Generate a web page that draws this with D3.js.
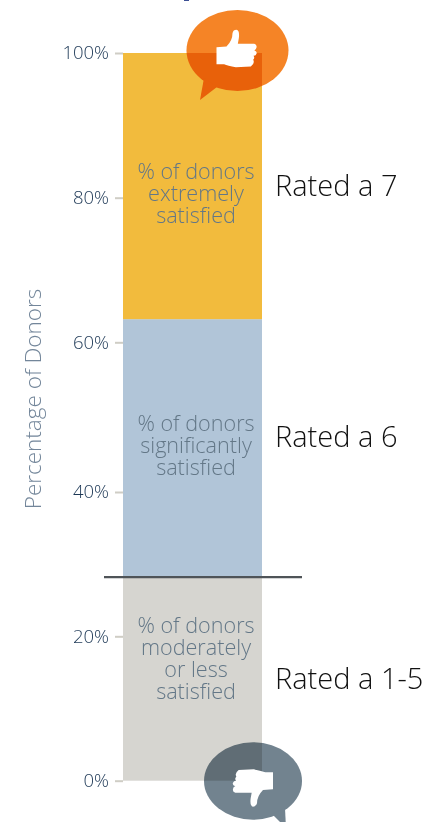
<!DOCTYPE html>
<html>
<head>
<meta charset="utf-8">
<script src="https://cdn.jsdelivr.net/npm/d3@7"></script>
<style>
  html, body { margin: 0; padding: 0; background: #fff; }
  svg { display: block; }
  text { font-family: "Open Sans", sans-serif; font-weight: 300; }
  .tick line { stroke: #cfcdc5; stroke-width: 2; }
  .tick text { fill: #1c3755; font-size: 18.5px; }
</style>
</head>
<body>
<div id="chart"></div>
<script>
/**
 * DATA
 * */
const categories = ["low", "six", "seven"];
const shares = [28.2, 35, 36.8];
const ratingLabels = ["Rated a 1-5", "Rated a 6", "Rated a 7"];
const barLabels = [
  ["% of donors", "moderately", "or less", "satisfied"],
  ["% of donors", "significantly", "satisfied"],
  ["% of donors", "extremely", "satisfied"]
];
const tickValues = [0, 20, 40, 60, 80, 100];
const colors = ["#d6d5d0", "#b1c5d8", "#f2bb3d"];

const width = 438, height = 822;

// the labels are not centred on their segments in the original
const barLabelCenters = [659, 446, 194];
const ratingCenters = [679, 437, 186];

// the tick spacing in the original is slightly uneven, so the scale is piecewise
const y = d3.scaleLinear()
  .domain(tickValues)
  .range([780.7, 636.3, 492, 342.3, 197.7, 53]);

const x = d3.scaleBand()
  .domain(["donors"])
  .range([123, 262]);

const svg = d3.select("#chart")
  .append("svg")
  .attr("width", width)
  .attr("height", height);

// tiny cut off piece of the title above the picture
svg.append("rect")
  .attr("x", 184).attr("y", 0)
  .attr("width", 5).attr("height", 1)
  .attr("fill", "#3c4f94");

/**
 * STACKED BAR
 * */
const rows = [Object.fromEntries(categories.map((c, i) => [c, shares[i]]))];
const series = d3.stack().keys(categories)(rows);

svg.selectAll(".segment")
  .data(series)
  .join("rect")
  .attr("class", "segment")
  .attr("x", x("donors"))
  .attr("width", x.bandwidth())
  .attr("y", d => y(d[0][1]))
  .attr("height", d => y(d[0][0]) - y(d[0][1]))
  .attr("fill", (d, i) => colors[i]);

/**
 * AXIS
 * */
const axis = svg.append("g")
  .attr("transform", "translate(123,0)")
  .call(d3.axisLeft(y)
    .tickValues(tickValues)
    .tickSize(8)
    .tickPadding(6)
    .tickFormat(d => d + "%"));
axis.select(".domain").remove();

svg.append("text")
  .attr("transform", "translate(41,399) rotate(-90)")
  .attr("text-anchor", "middle")
  .attr("font-size", 22.5)
  .attr("fill", "#73869a")
  .text("Percentage of Donors");

/**
 * LABELS
 * */
const labelGroups = svg.selectAll(".bar-label")
  .data(series)
  .join("g")
  .attr("class", "bar-label");

labelGroups.append("text")
  .attr("x", 196)
  .attr("text-anchor", "middle")
  .attr("font-size", 21.6)
  .attr("fill", "#637787")
  .each(function (d, i) {
    const lines = barLabels[i];
    d3.select(this).selectAll("tspan")
      .data(lines)
      .join("tspan")
      .attr("x", 196)
      .attr("y", (l, j) => barLabelCenters[i] + 7 + (j - (lines.length - 1) / 2) * 21.7)
      .text(l => l);
  });

labelGroups.append("text")
  .attr("x", 275)
  .attr("y", (d, i) => ratingCenters[i] + 10)
  .attr("font-size", 29)
  .attr("fill", "#111")
  .text((d, i) => ratingLabels[i]);

/**
 * DIVIDER
 * */
svg.append("line")
  .attr("x1", 104).attr("x2", 302)
  .attr("y1", y(shares[0])).attr("y2", y(shares[0]))
  .attr("stroke", "#4f5458")
  .attr("stroke-width", 2.2);

/**
 * SPEECH BUBBLES
 * */
const hand = "M142 142 L172 140 Q190 122 190 100 Q192 90 202 90 Q212 92 209 115 L206 132 L255 132 Q264 135 262 143 Q261 150 255 151 Q265 155 262 162 Q260 168 253 168 Q258 175 252 180 Q258 190 245 200 L200 202 Q175 198 165 193 L142 193 Z";

function bubble(cx, cy, rx, ry, tail, fill, handX, handY, handAngle) {
  const g = svg.append("g").style("mix-blend-mode", "multiply");
  g.append("ellipse")
    .attr("cx", cx).attr("cy", cy)
    .attr("rx", rx).attr("ry", ry)
    .attr("fill", fill);
  g.append("path")
    .attr("d", tail)
    .attr("fill", fill);
  svg.append("path")
    .attr("d", hand)
    .attr("fill", "#fff")
    .attr("transform", `translate(${handX},${handY}) rotate(${handAngle}) scale(0.3333) translate(-202,-146)`);
}

bubble(237.5, 50.5, 51, 40.5, "M204 78 L200 100 L217 87 Z", "#f58426", 236.5, 48.5, 0);
bubble(253, 781, 49, 38.7, "M272 814 L286 828 L285 808 Z", "#72838f", 253, 788, 180);
</script>
</body>
</html>
